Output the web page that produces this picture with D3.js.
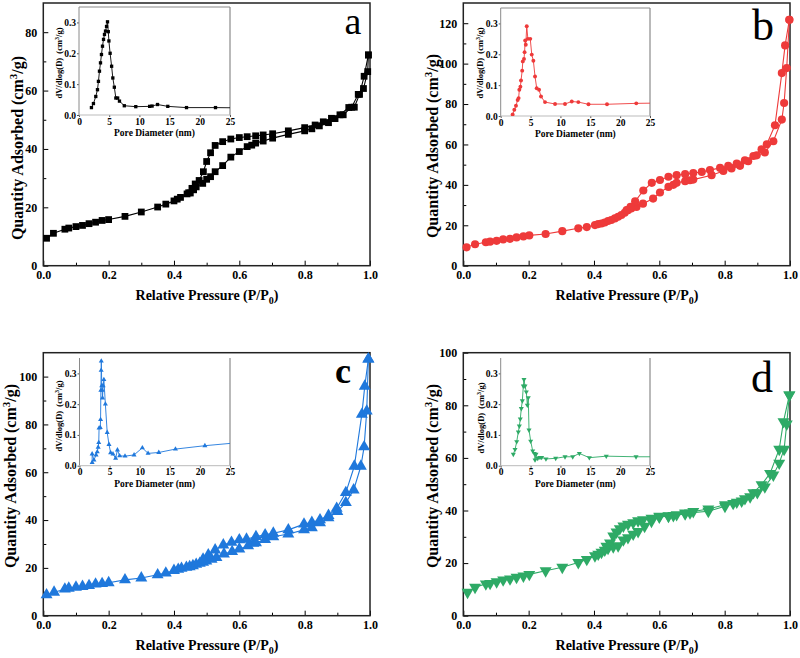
<!DOCTYPE html>
<html><head><meta charset="utf-8">
<script src="https://cdn.jsdelivr.net/npm/d3@7"></script>
<style>body{margin:0;background:#fff}svg{display:block}</style>
</head><body>
<svg id="chart" width="800" height="658"></svg>
<script>
// ---------- data ----------
const xTicksMajor = [0.0, 0.2, 0.4, 0.6, 0.8, 1.0];
const xTicksMinor = [0.1, 0.3, 0.5, 0.7, 0.9];
const yTicksA = [0, 20, 40, 60, 80];
const yTicksB = [0, 20, 40, 60, 80, 100, 120];
const yTicksC = [0, 20, 40, 60, 80, 100];
const yTicksD = [0, 20, 40, 60, 80, 100];
const insetXTicks = [0, 5, 10, 15, 20, 25];
const insetYTicks = [0.0, 0.1, 0.2, 0.3];

const isoA_ads = [[0.01,9.4],[0.031,11.1],[0.066,12.5],[0.078,12.9],[0.1,13.4],[0.12,13.8],[0.14,14.4],[0.16,14.9],[0.18,15.5],[0.2,15.8],[0.25,16.9],[0.3,18.4],[0.35,20.1],[0.375,21.1],[0.4,22.2],[0.41,22.8],[0.42,23.4],[0.44,24.6],[0.45,24.9],[0.46,26],[0.468,27],[0.488,28.2],[0.5,29.6],[0.512,30.5],[0.526,32.2],[0.549,34.3],[0.574,37.2],[0.6,39.1],[0.624,40.8],[0.638,41.3],[0.65,42],[0.673,42.7],[0.702,43.7],[0.75,45],[0.8,46.2],[0.822,46.9],[0.845,47.9],[0.873,49],[0.893,50.4],[0.918,51.7],[0.944,54.3],[0.964,58.7],[0.98,60.7],[0.993,66.5],[0.995,72.2]];
const isoA_des = [[0.995,72.2],[0.982,64.9],[0.968,58.7],[0.952,54.3],[0.935,54.2],[0.908,51.7],[0.882,50.5],[0.857,49.3],[0.832,48.2],[0.8,47.3],[0.75,46.2],[0.702,45.2],[0.673,44.8],[0.65,44.5],[0.624,44.2],[0.6,43.9],[0.574,43.4],[0.549,42.5],[0.526,41.2],[0.512,38.7],[0.5,35.7],[0.49,32.2],[0.477,29.2],[0.465,28],[0.455,26.5],[0.445,25]];

const isoB_ads = [[0.01,9.1],[0.036,10.6],[0.069,11.6],[0.082,11.9],[0.102,12.3],[0.122,13],[0.143,13.3],[0.163,14],[0.184,14.5],[0.202,15],[0.252,15.7],[0.303,17.1],[0.352,18.5],[0.378,19.1],[0.403,20.1],[0.413,20.6],[0.423,20.9],[0.433,21.4],[0.443,22.1],[0.453,22.6],[0.464,23.4],[0.474,24.2],[0.484,25.1],[0.494,26.2],[0.504,27.5],[0.514,28.3],[0.53,29.1],[0.55,30.7],[0.581,33.2],[0.602,36.2],[0.628,39],[0.643,40],[0.653,41],[0.679,41.8],[0.694,42.3],[0.704,42.6],[0.76,44.8],[0.796,46.9],[0.821,48.1],[0.847,49.4],[0.872,51.7],[0.898,54.6],[0.923,56],[0.949,61.6],[0.975,72.3],[0.982,80.5],[0.99,97.8],[0.998,121.7]];
const isoB_des = [[0.998,121.7],[0.985,109],[0.975,95.3],[0.954,69.5],[0.929,60.1],[0.913,57.6],[0.888,54.3],[0.862,52.2],[0.837,50.6],[0.811,49.4],[0.786,48.4],[0.755,47.3],[0.73,46.4],[0.704,45.9],[0.679,45.3],[0.653,44.8],[0.628,44],[0.602,42.4],[0.577,41],[0.551,37.2],[0.526,31.8],[0.512,29.2],[0.5,27.5]];

const isoC_ads = [[0.01,8.7],[0.033,9.8],[0.066,11.1],[0.078,11.5],[0.1,11.9],[0.12,12.2],[0.14,12.6],[0.16,13.2],[0.18,13.4],[0.2,13.8],[0.25,15],[0.3,15.8],[0.35,17.1],[0.375,17.8],[0.4,18.9],[0.413,19.4],[0.423,19.8],[0.438,20.2],[0.448,20.5],[0.458,20.9],[0.468,21.5],[0.479,21.9],[0.489,22.3],[0.499,22.9],[0.515,23.6],[0.53,24.3],[0.553,25.8],[0.578,26.8],[0.6,27.9],[0.627,29.2],[0.643,30.3],[0.651,30.5],[0.679,31.9],[0.704,33],[0.75,34.2],[0.798,35.9],[0.822,36.8],[0.847,38.9],[0.873,41],[0.9,43.6],[0.926,47.3],[0.95,52.6],[0.972,62.5],[0.982,70.6],[0.99,85.6],[0.995,107.3]];
const isoC_des = [[0.995,107.3],[0.984,96],[0.975,84.2],[0.952,62.5],[0.926,51.5],[0.898,44.9],[0.873,41.9],[0.847,40.1],[0.822,39],[0.798,38.3],[0.75,35.9],[0.704,34.5],[0.679,33.8],[0.651,33.1],[0.622,32],[0.6,31.7],[0.576,30.7],[0.551,29.6],[0.526,27.5],[0.505,25.4],[0.489,23.7]];

const isoD_ads = [[0.013,8.9],[0.036,10.8],[0.069,12.1],[0.082,12.3],[0.102,12.9],[0.122,13.6],[0.143,14],[0.163,14.6],[0.184,15.1],[0.202,15.7],[0.252,17.1],[0.303,18.4],[0.352,20.2],[0.378,21.4],[0.403,22.8],[0.413,23.4],[0.423,24.1],[0.433,24.9],[0.443,25.6],[0.459,26.2],[0.474,26.6],[0.49,28.8],[0.504,29.7],[0.52,31],[0.535,32],[0.555,34],[0.576,35.9],[0.6,37.5],[0.628,37.8],[0.643,38.1],[0.679,38.7],[0.694,39.1],[0.75,39.7],[0.801,41.6],[0.826,42.7],[0.852,43.6],[0.878,45.2],[0.9,46.8],[0.923,49],[0.949,53.5],[0.967,58],[0.982,63.3],[0.99,72.9],[0.998,83.9]];
const isoD_des = [[0.998,83.9],[0.98,73.8],[0.967,63.3],[0.939,54.1],[0.913,49.8],[0.888,46.8],[0.862,44.5],[0.837,43.2],[0.801,42.2],[0.75,40.6],[0.704,39.6],[0.679,39.1],[0.653,38.4],[0.628,38],[0.6,37.8],[0.576,37.1],[0.55,36.5],[0.535,36.1],[0.52,35.4],[0.504,34.8],[0.49,34.1],[0.479,33.1],[0.469,31.8],[0.459,30.3],[0.449,27.7],[0.438,26.4]];

const psdA = [[2.06,0.024],[2.39,0.037],[2.78,0.06],[3.06,0.082],[3.22,0.109],[3.39,0.142],[3.56,0.169],[3.72,0.196],[3.89,0.223],[4.06,0.245],[4.22,0.261],[4.39,0.272],[4.56,0.287],[4.72,0.302],[4.85,0.27],[4.95,0.24],[5.15,0.2],[5.4,0.158],[5.6,0.12],[5.85,0.09],[6.1,0.055],[6.4,0.055],[6.7,0.045],[7.5,0.03],[9.4,0.027],[11.7,0.028],[12.1,0.029],[13.0,0.034],[14.7,0.028],[17.8,0.024],[22.6,0.024],[27,0.023]];
const psdB = [[2.0,0.005],[2.28,0.02],[2.56,0.033],[2.84,0.052],[3.0,0.058],[3.12,0.085],[3.3,0.095],[3.4,0.115],[3.6,0.147],[3.7,0.177],[3.9,0.185],[4.0,0.207],[4.1,0.245],[4.2,0.231],[4.36,0.291],[4.55,0.25],[4.95,0.25],[5.2,0.199],[5.47,0.179],[5.75,0.128],[6.03,0.09],[6.42,0.085],[6.75,0.063],[7.42,0.045],[9.1,0.039],[10.77,0.039],[11.9,0.047],[13,0.045],[14.7,0.038],[17.8,0.038],[22.7,0.041],[27,0.042]];
const psdC = [[2.1,0.01],[2.1,0.038],[2.4,0.018],[2.75,0.035],[2.95,0.045],[3.1,0.06],[3.2,0.075],[3.25,0.122],[3.45,0.124],[3.5,0.15],[3.55,0.245],[3.6,0.31],[3.62,0.34],[3.7,0.26],[3.78,0.245],[3.82,0.22],[3.92,0.26],[4.05,0.28],[4.3,0.2],[4.6,0.108],[4.9,0.069],[5.17,0.042],[5.56,0.038],[6.0,0.024],[6.3,0.051],[6.67,0.032],[7.56,0.031],[9.06,0.035],[10.44,0.058],[11.39,0.04],[13.17,0.043],[15.94,0.054],[20.83,0.065],[27,0.076]];
const psdD = [[2.11,0.037],[2.4,0.053],[2.68,0.078],[2.95,0.11],[3.12,0.129],[3.28,0.152],[3.45,0.186],[3.62,0.211],[3.79,0.259],[3.9,0.28],[4.07,0.259],[4.29,0.24],[4.46,0.197],[4.62,0.221],[4.74,0.116],[5.02,0.08],[5.36,0.048],[5.63,0.04],[5.75,0.019],[5.91,0.037],[6.2,0.024],[6.58,0.027],[6.86,0.027],[7.58,0.022],[9.21,0.024],[10.77,0.029],[12.06,0.029],[13.17,0.04],[14.84,0.026],[17.68,0.031],[22.66,0.029],[27,0.029]];

// ---------- layout / style ----------
const FONT = "'Liberation Serif','Times New Roman',serif";
const panels = [
  {label:'a', labelBold:false, color:'#000000', sym:'square', ads:isoA_ads, des:isoA_des, yMax:90, yTicks:yTicksA, psd:psdA,
   l:43.3, r:370, t:3, b:265.7, lab:[353,34,38], ytx:17, yty:148, xtx:207, xty:300,
   ins:{l:79, r:230, t:7, b:115, top:true, ytx:59, yty:63, xty:136}},
  {label:'b', labelBold:false, color:'#ee3a3a', sym:'circle', ads:isoB_ads, des:isoB_des, yMax:130, yTicks:yTicksB, psd:psdB,
   l:463.3, r:790, t:3, b:265.7, lab:[763,40,44], ytx:432, yty:146, xtx:627, xty:300,
   ins:{l:500.7, r:650, t:8, b:116, top:true, ytx:480, yty:63, xty:137}},
  {label:'c', labelBold:true, color:'#1f78dc', sym:'triangle', ads:isoC_ads, des:isoC_des, yMax:110, yTicks:yTicksC, psd:psdC,
   l:43.3, r:370, t:352.7, b:615.7, lab:[343,383,36], ytx:10, yty:476, xtx:207, xty:650,
   ins:{l:79.5, r:230, t:358, b:465.7, top:false, ytx:59, yty:416, xty:487}},
  {label:'d', labelBold:false, color:'#2eaa66', sym:'triangleDown', ads:isoD_ads, des:isoD_des, yMax:100, yTicks:yTicksD, psd:psdD,
   l:463.3, r:790, t:352.7, b:615.7, lab:[762,392,44], ytx:432, yty:476, xtx:627, xty:650,
   ins:{l:500.7, r:650, t:358, b:465.7, top:false, ytx:481, yty:418, xty:487}}
];

const svg = d3.select('#chart');
const defs = svg.append('defs');

function symbolPath(kind, size){
  if (kind === 'square') return d3.symbol().type(d3.symbolSquare).size(size)();
  if (kind === 'circle') return d3.symbol().type(d3.symbolCircle).size(size)();
  return d3.symbol().type(d3.symbolTriangle).size(size)();
}

function drawMarkers(g, data, x, y, kind, size, color){
  const path = symbolPath(kind, size);
  g.selectAll(null).data(data).enter().append('path')
    .attr('d', path)
    .attr('transform', d => `translate(${x(d[0])},${y(d[1])})` + (kind === 'triangleDown' ? ' rotate(180)' : ''))
    .attr('fill', color);
}

function styleAxis(ax, size){
  ax.select('.domain').remove();
  ax.selectAll('text').attr('font-family', FONT).attr('font-weight','bold').attr('font-size', size).attr('fill','#000');
}

panels.forEach((p, i) => {
  const g = svg.append('g');
  const x = d3.scaleLinear().domain([0, 1]).range([p.l, p.r]);
  const y = d3.scaleLinear().domain([0, p.yMax]).range([p.b, p.t]);

  // axes
  const gx = g.append('g').attr('transform', `translate(0,${p.b})`)
    .call(d3.axisBottom(x).tickValues(xTicksMajor).tickFormat(d3.format('.1f')).tickSizeInner(-5).tickSizeOuter(0).tickPadding(5));
  styleAxis(gx, 12);
  const gxm = g.append('g').attr('transform', `translate(0,${p.b})`)
    .call(d3.axisBottom(x).tickValues(xTicksMinor).tickFormat('').tickSizeInner(-3).tickSizeOuter(0));
  gxm.select('.domain').remove();
  const gy = g.append('g').attr('transform', `translate(${p.l},0)`)
    .call(d3.axisLeft(y).tickValues(p.yTicks).tickFormat(d3.format('d')).tickSizeInner(-5).tickSizeOuter(0).tickPadding(6));
  styleAxis(gy, 12);
  const yMinor = p.yTicks.slice(0, -1).map(v => v + 10).concat(p.yTicks[p.yTicks.length-1] + 10 < p.yMax ? [p.yTicks[p.yTicks.length-1] + 10] : []);
  const gym = g.append('g').attr('transform', `translate(${p.l},0)`)
    .call(d3.axisLeft(y).tickValues(yMinor).tickFormat('').tickSizeInner(-3).tickSizeOuter(0));
  gym.select('.domain').remove();
  g.selectAll('.tick line').attr('stroke', '#000');

  // frame
  g.append('rect').attr('x', p.l).attr('y', p.t).attr('width', p.r - p.l).attr('height', p.b - p.t)
    .attr('fill', 'none').attr('stroke', '#222').attr('stroke-width', 1.5);

  // isotherm lines + markers
  const line = d3.line().x(d => x(d[0])).y(d => y(d[1]));
  [p.ads, p.des].forEach(s => {
    g.append('path').attr('d', line(s)).attr('fill', 'none').attr('stroke', p.color).attr('stroke-width', 1.1);
  });
  const mg = g.append('g');
  const msize = p.sym === 'square' ? 46 : (p.sym === 'circle' ? 52 : 62);
  drawMarkers(mg, p.ads, x, y, p.sym, msize, p.color);
  drawMarkers(mg, p.des, x, y, p.sym, msize, p.color);

  // panel label
  g.append('text').attr('x', p.lab[0]).attr('y', p.lab[1]).attr('text-anchor', 'middle')
    .attr('font-family', FONT).attr('font-size', p.lab[2]).attr('font-weight', p.labelBold ? 'bold' : 'normal')
    .text(p.label);

  // axis titles
  const xt = g.append('text').attr('x', p.xtx).attr('y', p.xty).attr('text-anchor', 'middle')
    .attr('font-family', FONT).attr('font-weight', 'bold').attr('font-size', 14);
  xt.append('tspan').text('Relative Pressure (P/P');
  xt.append('tspan').attr('font-size', 10).attr('dy', 4).text('0');
  xt.append('tspan').attr('dy', -4).text(')');

  const yt = g.append('text').attr('transform', `translate(${p.ytx},${p.yty}) rotate(-90)`).attr('text-anchor', 'middle')
    .attr('dy', '0.35em')
    .attr('font-family', FONT).attr('font-weight', 'bold').attr('font-size', 16);
  yt.append('tspan').text('Quantity Adsorbed (cm');
  yt.append('tspan').attr('font-size', 11).attr('dy', -6).text('3');
  yt.append('tspan').attr('dy', 6).text('/g)');

  // inset
  const ins = p.ins;
  const ix = d3.scaleLinear().domain([0, 25]).range([ins.l, ins.r]);
  const iy = d3.scaleLinear().domain([0, 0.35]).range([ins.b, ins.t]);
  const ig = g.append('g');
  ig.append('rect').attr('x', ins.l).attr('y', ins.t).attr('width', ins.r - ins.l).attr('height', ins.b - ins.t).attr('fill', '#fff');
  const clipId = 'clip' + i;
  defs.append('clipPath').attr('id', clipId).append('rect')
    .attr('x', ins.l).attr('y', ins.t - 4).attr('width', ins.r - ins.l).attr('height', ins.b - ins.t + 4);

  const igx = ig.append('g').attr('transform', `translate(0,${ins.b})`)
    .call(d3.axisBottom(ix).tickValues(insetXTicks).tickSizeInner(2).tickSizeOuter(0).tickPadding(1));
  styleAxis(igx, 9.5);
  const igy = ig.append('g').attr('transform', `translate(${ins.l},0)`)
    .call(d3.axisLeft(iy).tickValues(insetYTicks).tickFormat(d3.format('.1f')).tickSizeInner(2).tickSizeOuter(0).tickPadding(1));
  styleAxis(igy, 9.5);
  ig.selectAll('.tick line').attr('stroke', '#555');

  // inset frame
  const fc = '#8a8a8a';
  ig.append('line').attr('x1', ins.l).attr('x2', ins.l).attr('y1', ins.t).attr('y2', ins.b).attr('stroke', fc);
  ig.append('line').attr('x1', ins.r).attr('x2', ins.r).attr('y1', ins.t).attr('y2', ins.b).attr('stroke', fc).attr('stroke-width', 1.2);
  ig.append('line').attr('x1', ins.l).attr('x2', ins.r).attr('y1', ins.b).attr('y2', ins.b).attr('stroke', '#bbb');
  if (ins.top) ig.append('line').attr('x1', ins.l).attr('x2', ins.r).attr('y1', ins.t).attr('y2', ins.t).attr('stroke', fc);

  const cg = ig.append('g').attr('clip-path', `url(#${clipId})`);
  const iline = d3.line().x(d => ix(d[0])).y(d => iy(d[1]));
  cg.append('path').attr('d', iline(p.psd)).attr('fill', 'none').attr('stroke', p.color).attr('stroke-width', 0.9);
  drawMarkers(cg, p.psd, ix, iy, p.sym, p.sym === 'circle' ? 12 : 11, p.color);

  // inset titles
  ig.append('text').attr('x', (ins.l + ins.r) / 2).attr('y', ins.xty).attr('text-anchor', 'middle')
    .attr('font-family', FONT).attr('font-weight', 'bold').attr('font-size', 9.5).text('Pore Diameter (nm)');
  const iyt = ig.append('text').attr('transform', `translate(${ins.ytx},${ins.yty}) rotate(-90)`).attr('text-anchor', 'middle')
    .attr('dy', '0.35em').attr('font-family', FONT).attr('font-weight', 'bold').attr('font-size', 8.5);
  iyt.append('tspan').text('dV/dlog(D)\u00a0\u00a0(cm');
  iyt.append('tspan').attr('font-size', 6).attr('dy', -3).text('3');
  iyt.append('tspan').attr('dy', 3).text('/g)');
});
</script>
</body></html>
